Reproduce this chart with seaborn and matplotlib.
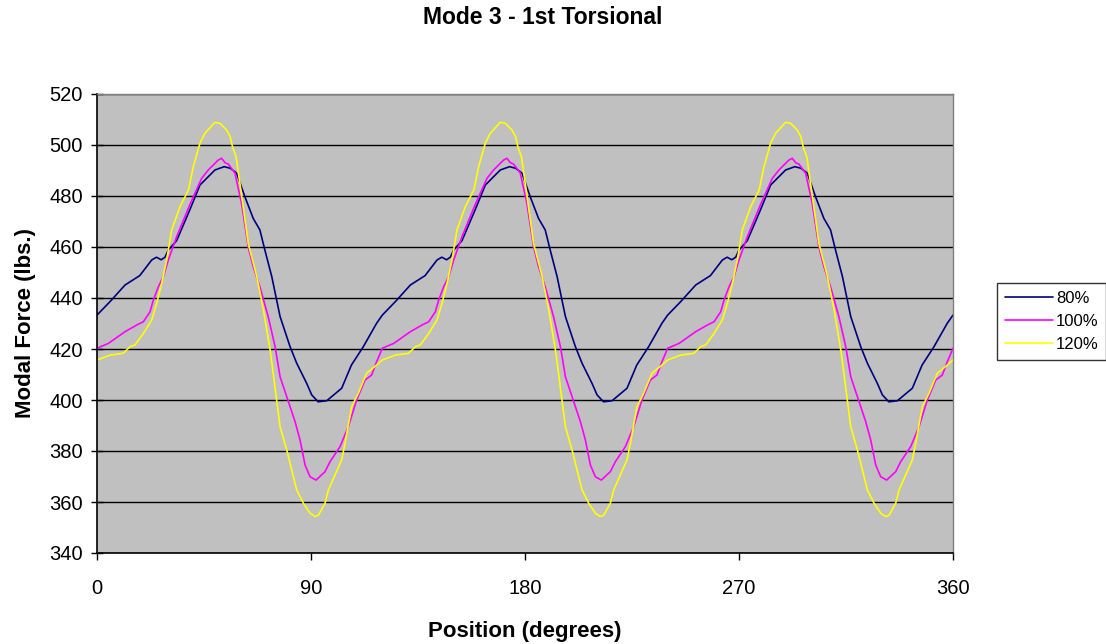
import numpy as np
import pandas as pd
import matplotlib
matplotlib.use("Agg")
import matplotlib.pyplot as plt
import seaborn as sns

# One 120-degree cycle of modal force for each speed; the response repeats every 120 degrees
pos_80 = [0, 5.5, 11.8, 18, 23, 25, 27, 28.6, 30, 33.5, 39, 43.3, 49.6, 53.5, 56,
          58.7, 62.2, 65.7, 68.5, 70.6, 73.5, 77, 81.2, 84, 88.2, 90.3, 93, 96.6,
          102.9, 107, 112, 117.6]
force_80 = [433.3, 438.6, 445.1, 448.8, 454.9, 456.0, 455.0, 456.0, 458.8, 462.5,
            474.5, 484.3, 490.2, 491.5, 490.9, 489.0, 479.7, 471.2, 466.7, 458.8,
            448.4, 432.7, 420.9, 414.4, 406.5, 402.0, 399.3, 399.7, 404.6, 413.7,
            420.9, 430.1]

pos_100 = [0, 4.8, 11.8, 16.7, 19.5, 22.3, 23.7, 25.8, 27.9, 30, 33.5, 39, 44, 46.8,
           51, 52.4, 53.8, 55.2, 58, 60.8, 63.6, 65.7, 68.5, 72, 74.9, 77, 79.8, 83.3,
           85.4, 87.5, 89.6, 92.1, 95.9, 98, 102.2, 105.7, 109.2, 112.7, 115.5, 117.6]
force_100 = [420.3, 422.2, 426.8, 429.4, 430.7, 434.6, 439.2, 444.4, 448.4, 454.9,
             464.0, 476.5, 486.9, 490.2, 494.1, 494.8, 493.1, 492.5, 489.0, 477.1,
             460.1, 452.3, 444.4, 432.7, 420.9, 409.1, 401.3, 391.5, 384.3, 374.5,
             369.9, 368.6, 371.9, 375.8, 381.7, 389.5, 400.0, 407.8, 409.8, 415.0]

pos_120 = [0, 5.5, 11, 13.9, 16, 19.5, 23, 25.1, 27.2, 29.3, 31.4, 34.9, 38.5, 40.5,
           43.3, 45.4, 49.6, 51.7, 54.5, 56, 57, 58.5, 60.1, 63.6, 67.2, 70, 72.8, 74.1,
           77, 79.8, 84, 86.8, 89.6, 91.7, 93.1, 95.9, 97.3, 102.9, 104.3, 107.1,
           109.9, 113.4, 117.6]
force_120 = [415.7, 417.6, 418.3, 420.9, 421.6, 426.1, 431.4, 437.9, 445.7, 454.9,
             466.7, 475.8, 482.4, 491.5, 500.7, 504.6, 508.9, 508.5, 505.9, 503.3,
             499.3, 495.4, 485.0, 461.4, 448.4, 435.3, 419.6, 410.5, 389.5, 380.4,
             364.7, 359.5, 355.6, 354.3, 354.8, 359.5, 364.7, 376.5, 383.0, 397.4,
             402.6, 410.5, 413.7]

series_labels = ["80%", "100%", "120%"]
series_colors = ["#000080", "#FF00FF", "#FFFF00"]
x_ticks = [0, 90, 180, 270, 360]
y_ticks = list(range(340, 521, 20))

CYCLE = 120


def full_turn(pos, force, label):
    """Lay one cycle out over 0-360 degrees and close it at 360."""
    p = np.asarray(pos, dtype=float)
    f = np.asarray(force, dtype=float)
    xs = np.concatenate([p + k * CYCLE for k in range(3)] + [[360.0]])
    ys = np.concatenate([f, f, f, f[:1]])
    return pd.DataFrame({"Position": xs, "Force": ys, "Series": label})


df = pd.concat([
    full_turn(pos_80, force_80, series_labels[0]),
    full_turn(pos_100, force_100, series_labels[1]),
    full_turn(pos_120, force_120, series_labels[2]),
], ignore_index=True)

sns.set_theme(style="white")
plt.rcParams["font.family"] = ["Liberation Sans", "DejaVu Sans"]
plt.rcParams["text.color"] = "black"
plt.rcParams["axes.labelcolor"] = "black"

fig = plt.figure(figsize=(11.06, 6.44), dpi=100)
ax = fig.add_axes([97 / 1106, 1 - 553 / 644, (953 - 97) / 1106, (553 - 94) / 644])
ax.set_facecolor("#C0C0C0")

sns.lineplot(data=df, x="Position", y="Force", hue="Series",
             hue_order=series_labels, palette=series_colors,
             estimator=None, sort=True, linewidth=1.2, ax=ax, legend=False)

ax.set_xlim(0, 360)
ax.set_ylim(340, 520)
ax.set_xticks(x_ticks)
ax.set_yticks(y_ticks)
ax.yaxis.grid(True, color="black", linewidth=1.0)
ax.xaxis.grid(False)
ax.set_axisbelow(True)

for side in ("left", "bottom"):
    ax.spines[side].set_color("black")
    ax.spines[side].set_linewidth(1.2)
for side in ("top", "right"):
    ax.spines[side].set_color("#808080")
    ax.spines[side].set_linewidth(1.0)

ax.tick_params(axis="y", direction="inout", length=8, width=1, color="black",
               labelsize=14.5, labelcolor="black", left=True, pad=6)
ax.tick_params(axis="x", direction="out", length=5, width=1, color="black",
               labelsize=14.5, labelcolor="black", bottom=True, pad=14)

ax.set_xlabel("Position (degrees)", fontsize=16, fontweight="bold", labelpad=16)
ax.set_ylabel("Modal Force (lbs.)", fontsize=16, fontweight="bold", labelpad=10)
fig.text(543 / 1106, 1 - 18 / 644, "Mode 3 - 1st Torsional", ha="center", va="center",
         fontsize=16.5, fontweight="bold")

handles = [plt.Line2D([], [], color=c, linewidth=1.2) for c in series_colors]
leg = fig.legend(handles, series_labels, loc="upper left",
                 bbox_to_anchor=(997 / 1106, 1 - 283 / 644), frameon=True,
                 fancybox=False, edgecolor="black", facecolor="white", fontsize=12,
                 handlelength=2.9, handletextpad=0.2, borderpad=0.45,
                 labelspacing=0.5, borderaxespad=0)
leg.get_frame().set_linewidth(1.0)

fig.savefig("out.png", dpi=100, facecolor="white")
